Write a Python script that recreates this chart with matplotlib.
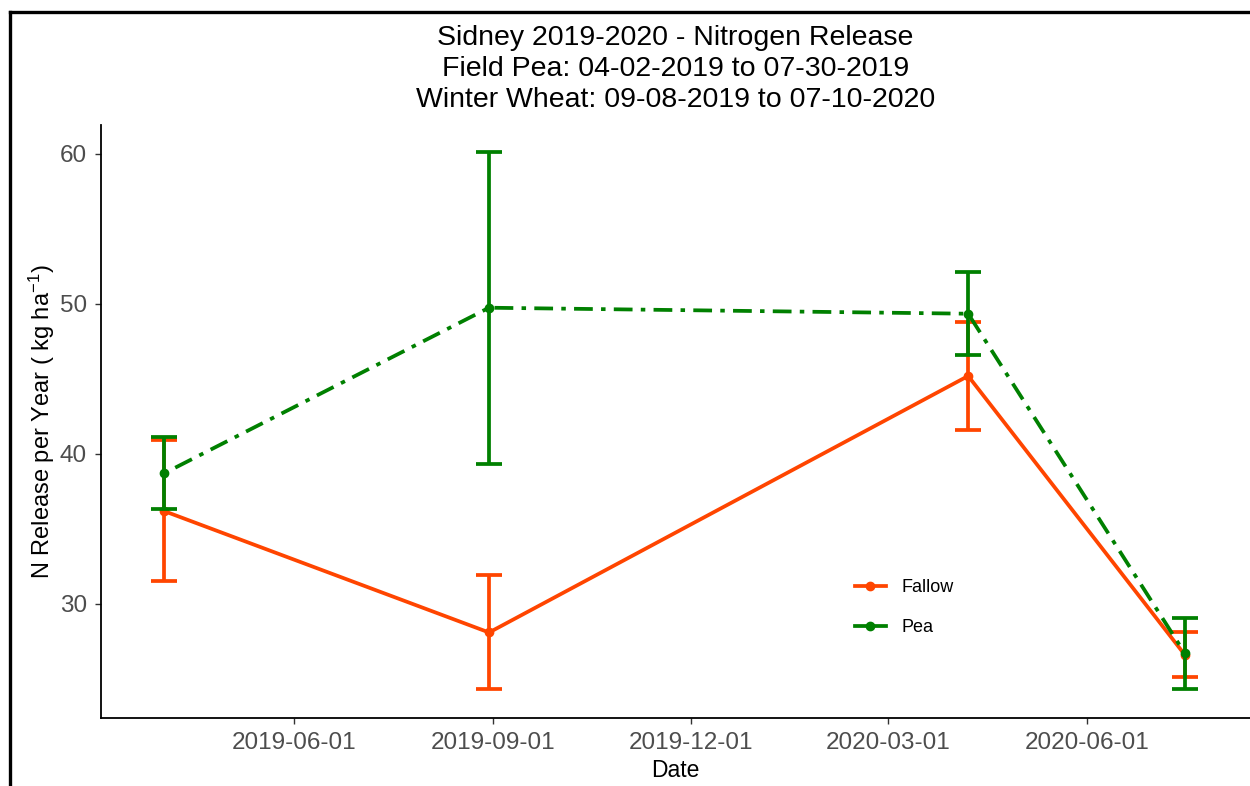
import numpy as np
import pandas as pd
import matplotlib
matplotlib.use('Agg')
from matplotlib import pyplot as plt
from matplotlib.lines import Line2D
import matplotlib.dates as mdates

plt.rcParams['font.family'] = ['Liberation Sans', 'DejaVu Sans']
plt.rcParams['mathtext.fontset'] = 'custom'
plt.rcParams['mathtext.rm'] = 'Liberation Sans'
plt.rcParams['mathtext.it'] = 'Liberation Sans:italic'
plt.rcParams['mathtext.default'] = 'regular'

# sampling dates
dates = pd.to_datetime(['2019-04-02', '2019-08-30', '2020-04-07', '2020-07-16'])

fallow_mean = [36.2, 28.1, 45.2, 26.6]
fallow_se = [4.7, 3.8, 3.6, 1.5]
pea_mean = [38.7, 49.75, 49.35, 26.7]
pea_se = [2.4, 10.4, 2.75, 2.35]

date_ticks = pd.to_datetime(['2019-06-01', '2019-09-01', '2019-12-01', '2020-03-01', '2020-06-01'])
y_ticks = [30, 40, 50, 60]

fallow_col = '#FF4500'
pea_col = '#008000'

fig = plt.figure(figsize=(12.5, 7.86), dpi=100)
ax = fig.add_axes([101 / 1250, 68 / 786, 1149 / 1250, 593 / 786])

lw = 2.7
for mean, se, col, ls in [(fallow_mean, fallow_se, fallow_col, '-'),
                          (pea_mean, pea_se, pea_col, (0, (1.2, 2.2, 5, 2.2)))]:
    ax.errorbar(dates, mean, yerr=se, fmt='none', ecolor=col, elinewidth=lw,
                capsize=9.4, capthick=lw)
    ax.plot(dates, mean, color=col, linewidth=lw, linestyle=ls,
            marker='o', markersize=6)

ax.set_xlim(pd.Timestamp('2019-03-04'), pd.Timestamp('2020-08-15'))
ax.set_ylim(22.4, 61.93)
ax.set_xticks(date_ticks)
ax.xaxis.set_major_formatter(mdates.DateFormatter('%Y-%m-%d'))
ax.set_yticks(y_ticks)

for side in ['top', 'right']:
    ax.spines[side].set_visible(False)
for side in ['left', 'bottom']:
    ax.spines[side].set_linewidth(1.3)
ax.tick_params(axis='both', length=4, width=1.0, color='#333333',
               labelcolor='#4D4D4D', labelsize=17.5)
ax.tick_params(axis='x', pad=6)
ax.tick_params(axis='y', pad=6)

ax.set_xlabel('Date', fontsize=16.5, labelpad=4)
ax.set_ylabel('N Release per Year ( kg ha$^{-1}$)', fontsize=17, labelpad=2)

ax.set_title('Sidney 2019-2020 - Nitrogen Release\n'
             'Field Pea: 04-02-2019 to 07-30-2019\n'
             'Winter Wheat: 09-08-2019 to 07-10-2020',
             fontsize=20.5, linespacing=1.25, pad=13)

handles = [Line2D([], [], color=fallow_col, linewidth=lw, marker='o', markersize=6),
           Line2D([], [], color=pea_col, linewidth=lw, marker='o', markersize=6)]
ax.legend(handles, ['Fallow', 'Pea'], loc='center left',
          bbox_to_anchor=(0.648, 0.186), frameon=False, fontsize=13,
          handlelength=1.75, handletextpad=0.85, labelspacing=1.25,
          borderpad=0, numpoints=1)

# outer frame
fig.add_artist(Line2D([10 / 1250, 10 / 1250], [0, 774 / 786], color='black',
                      linewidth=2.4, transform=fig.transFigure))
fig.add_artist(Line2D([10 / 1250, 1], [774 / 786, 774 / 786], color='black',
                      linewidth=2.4, transform=fig.transFigure))

plt.savefig('out.png', dpi=100)
